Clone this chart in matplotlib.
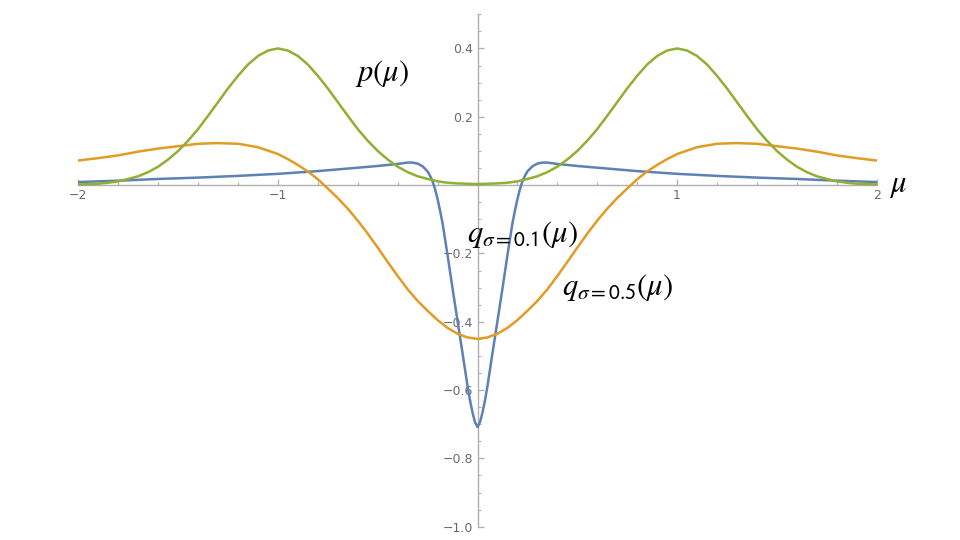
import numpy as np
import matplotlib
matplotlib.use("Agg")
import matplotlib.pyplot as plt
from matplotlib.ticker import MultipleLocator, FixedLocator

# values
mu_green = [-2.00, -1.95, -1.90, -1.85, -1.80, -1.75, -1.70, -1.65, -1.60, -1.55,
            -1.50, -1.45, -1.40, -1.35, -1.30, -1.25, -1.20, -1.15, -1.10, -1.05,
            -1.00, -0.95, -0.90, -0.85, -0.80, -0.75, -0.70, -0.65, -0.60, -0.55,
            -0.50, -0.45, -0.40, -0.35, -0.30, -0.25, -0.20, -0.15, -0.10, -0.05,
            0.00, 0.05, 0.10, 0.15, 0.20, 0.25, 0.30, 0.35, 0.40, 0.45,
            0.50, 0.55, 0.60, 0.65, 0.70, 0.75, 0.80, 0.85, 0.90, 0.95,
            1.00, 1.05, 1.10, 1.15, 1.20, 1.25, 1.30, 1.35, 1.40, 1.45,
            1.50, 1.55, 1.60, 1.65, 1.70, 1.75, 1.80, 1.85, 1.90, 1.95, 2.00]
p_vals = [0.002, 0.003, 0.004, 0.007, 0.011, 0.018, 0.026, 0.038, 0.054, 0.075,
          0.100, 0.130, 0.164, 0.203, 0.243, 0.283, 0.320, 0.353, 0.378, 0.394,
          0.400, 0.394, 0.378, 0.353, 0.320, 0.283, 0.243, 0.203, 0.164, 0.130,
          0.100, 0.075, 0.054, 0.038, 0.026, 0.018, 0.011, 0.007, 0.005, 0.004,
          0.003, 0.004, 0.005, 0.007, 0.011, 0.018, 0.026, 0.038, 0.054, 0.075,
          0.100, 0.130, 0.164, 0.203, 0.243, 0.283, 0.320, 0.353, 0.378, 0.394,
          0.400, 0.394, 0.378, 0.353, 0.320, 0.283, 0.243, 0.203, 0.164, 0.130,
          0.100, 0.075, 0.054, 0.038, 0.026, 0.018, 0.011, 0.007, 0.004, 0.003, 0.002]

mu_orange = [-2.0, -1.9, -1.8, -1.7, -1.6, -1.5, -1.4, -1.3, -1.2, -1.1, -1.0,
             -0.95, -0.9, -0.85, -0.8, -0.75, -0.7, -0.65, -0.6, -0.55, -0.5,
             -0.45, -0.4, -0.35, -0.3, -0.25, -0.2, -0.15, -0.1, -0.05, 0.0,
             0.05, 0.1, 0.15, 0.2, 0.25, 0.3, 0.35, 0.4, 0.45, 0.5,
             0.55, 0.6, 0.65, 0.7, 0.75, 0.8, 0.85, 0.9, 0.95, 1.0,
             1.1, 1.2, 1.3, 1.4, 1.5, 1.6, 1.7, 1.8, 1.9, 2.0]
q05_vals = [0.072, 0.079, 0.087, 0.098, 0.107, 0.114, 0.121, 0.123, 0.121, 0.111, 0.091,
            0.076, 0.059, 0.040, 0.017, -0.010, -0.038, -0.069, -0.104, -0.142, -0.183,
            -0.225, -0.266, -0.305, -0.339, -0.368, -0.395, -0.418, -0.435, -0.446, -0.450,
            -0.446, -0.435, -0.418, -0.395, -0.368, -0.339, -0.305, -0.266, -0.225, -0.183,
            -0.142, -0.104, -0.069, -0.038, -0.010, 0.017, 0.040, 0.059, 0.076, 0.091,
            0.111, 0.121, 0.123, 0.121, 0.114, 0.107, 0.098, 0.087, 0.079, 0.072]

mu_blue = [-2.0, -1.8, -1.6, -1.4, -1.2, -1.0, -0.8, -0.6, -0.5, -0.4, -0.375, -0.35,
           -0.325, -0.3, -0.275, -0.25, -0.2375, -0.225, -0.2125, -0.2, -0.1875, -0.175,
           -0.15, -0.125, -0.1, -0.075, -0.05, -0.0375, -0.025, -0.0125, 0.0,
           0.0125, 0.025, 0.0375, 0.05, 0.075, 0.1, 0.125, 0.15,
           0.175, 0.1875, 0.2, 0.2125, 0.225, 0.2375, 0.25, 0.275, 0.3,
           0.325, 0.35, 0.375, 0.4, 0.5, 0.6, 0.8, 1.0, 1.2, 1.4, 1.6, 1.8, 2.0]
q01_vals = [0.009, 0.013, 0.018, 0.022, 0.027, 0.033, 0.041, 0.051, 0.056, 0.062, 0.064, 0.066,
            0.066, 0.063, 0.055, 0.040, 0.027, 0.011, -0.012, -0.041, -0.075, -0.112,
            -0.205, -0.303, -0.398, -0.492, -0.588, -0.630, -0.666, -0.694, -0.708,
            -0.694, -0.666, -0.630, -0.588, -0.492, -0.398, -0.303, -0.205,
            -0.112, -0.075, -0.041, -0.012, 0.011, 0.027, 0.040, 0.055, 0.063,
            0.066, 0.066, 0.064, 0.062, 0.056, 0.051, 0.041, 0.033, 0.027, 0.022, 0.018, 0.013, 0.009]

plt.rcParams["mathtext.fontset"] = "stix"

fig = plt.figure(figsize=(9.6, 5.4), dpi=100)
ax = fig.add_axes([0.0816, 0.0246, 0.8316, 0.9489])

blue = "#5E81B5"
orange = "#E19C24"
green = "#8FB032"

ax.plot(mu_blue, q01_vals, color=blue, lw=1.8, zorder=3)
ax.plot(mu_orange, q05_vals, color=orange, lw=1.8, zorder=4)
ax.plot(mu_green, p_vals, color=green, lw=1.8, zorder=5)

ax.set_xlim(-2, 2)
ax.set_ylim(-1.0, 0.5)

axis_col = "#b0b0b0"
ax.spines["left"].set_position(("data", 0))
ax.spines["bottom"].set_position(("data", 0))
ax.spines["top"].set_visible(False)
ax.spines["right"].set_visible(False)
for s in ["left", "bottom"]:
    ax.spines[s].set_color(axis_col)
    ax.spines[s].set_linewidth(1.0)

ax.xaxis.set_major_locator(FixedLocator([-2, -1, 1, 2]))
ax.xaxis.set_minor_locator(MultipleLocator(0.2))
ax.yaxis.set_major_locator(FixedLocator([-1.0, -0.8, -0.6, -0.4, -0.2, 0.2, 0.4]))
ax.yaxis.set_minor_locator(MultipleLocator(0.05))
ax.set_xticklabels(["\u22122", "\u22121", "1", "2"])
ax.set_yticklabels(["\u22121.0", "\u22120.8", "\u22120.6", "\u22120.4", "\u22120.2", "0.2", "0.4"])

ax.tick_params(which="major", direction="in", length=4, width=0.9, color=axis_col,
               labelsize=9, labelcolor="#6b6b6b", pad=3)
ax.tick_params(which="minor", direction="in", length=2, width=0.8, color=axis_col)

# curve labels
ax.text(-0.477, 0.328, r"$p(\mu)$", fontsize=22, ha="center", va="center")
ax.text(-0.052, -0.166, r"$q_{\sigma=\mathsf{0.1}}(\mu)$", fontsize=22, ha="left", va="baseline")
ax.text(0.424, -0.321, r"$q_{\sigma=\mathsf{0.5}}(\mu)$", fontsize=22, ha="left", va="baseline")
ax.text(2.06, -0.02, r"$\mu$", fontsize=22, ha="left", va="baseline", clip_on=False)

fig.savefig("out.png", dpi=100)
